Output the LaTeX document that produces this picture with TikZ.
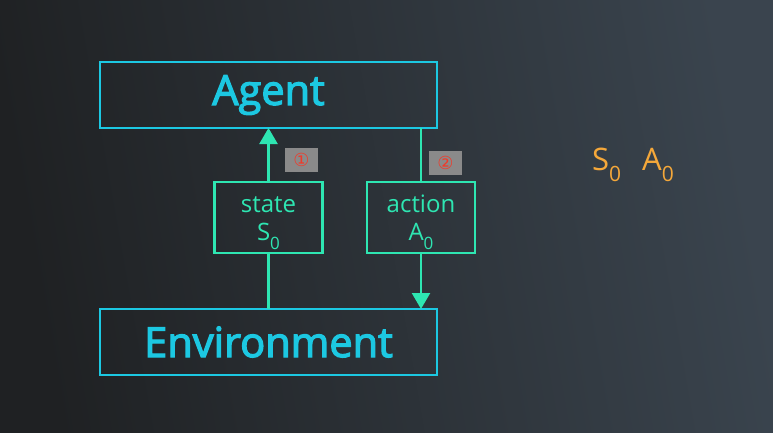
\documentclass[tikz,border=0pt]{standalone}
\usepackage{fontspec}
\setmainfont{Open Sans}
\newfontfamily\semib{Open Sans}[FakeBold=3]
\newfontfamily\dejavu{DejaVu Sans}
\usetikzlibrary{arrows.meta}
\definecolor{bgA}{HTML}{1F2123}
\definecolor{bgB}{HTML}{3A444E}
\definecolor{boxc}{HTML}{1CC8E2}
\definecolor{grn}{HTML}{2EE6B2}
\definecolor{org}{HTML}{F5A83A}
\definecolor{tagbg}{HTML}{8A8A8A}
\definecolor{tagred}{HTML}{F03A2A}
\begin{document}
\begin{tikzpicture}[x=1pt,y=-1pt,
  bigbox/.style={draw=boxc,line width=2.4pt,minimum width=337pt,minimum height=66pt,inner sep=0pt,text=boxc,font=\semib\fontsize{41.5}{44}\selectfont},
  smallbox/.style={draw=grn,line width=2.4pt,minimum width=108pt,minimum height=71pt,inner sep=0pt},
  boxtext/.style={text=grn,align=center,inner sep=0pt,font=\fontsize{24}{28}\selectfont},
  link/.style={draw=grn,line width=2.4pt},
  arr/.style={link,-{Triangle[length=16pt,width=18pt]}},
  tag/.style={fill=tagbg,minimum width=33pt,minimum height=24pt,inner sep=0pt,text=tagred,font=\dejavu\fontsize{18}{18}\selectfont},
  sym/.style={text=org,font=\fontsize{31}{34}\selectfont,inner sep=0pt}]
\useasboundingbox (0,0) rectangle (773,433);
\shade[left color=bgA,right color=bgB,shading angle=100] (0,0) rectangle (773,433);
\node[bigbox] (agent) at (268.5,95) {Agent};
\node[bigbox] (env) at (268.5,342) {Environment};
\node[smallbox] (state) at (268.5,217.5) {};
\node[smallbox] (action) at (421,217.5) {};
\node[boxtext,anchor=base] (stateL) at (268.5,212) {state};
\node[boxtext,anchor=base] (stateS) at (268.5,240) {S\raisebox{-0.75ex}{\fontsize{17}{17}\selectfont 0}};
\node[boxtext,anchor=base] (actionL) at (421,212) {action};
\node[boxtext,anchor=base] (actionS) at (421,240) {A\raisebox{-0.75ex}{\fontsize{17}{17}\selectfont 0}};
\coordinate (aT) at (421,128);
\coordinate (eT) at (421,309);
\coordinate (sT) at (268.5,128);
\coordinate (sB) at (268.5,309);
\draw[arr] (state.north) -- (sT);
\draw[link] (state.south) -- (sB);
\draw[link] (aT) -- (action.north);
\draw[arr] (action.south) -- (eT);
\node[tag] (t1) at (301.5,160) {①};
\node[tag] (t2) at (445.5,163) {②};
\node[sym,anchor=base west] (s0) at (592,170) {S\raisebox{-0.7ex}{\fontsize{21}{21}\selectfont 0}};
\node[sym,anchor=base west] (a0) at (642,170) {A\raisebox{-0.7ex}{\fontsize{21}{21}\selectfont 0}};
\end{tikzpicture}
\end{document}
